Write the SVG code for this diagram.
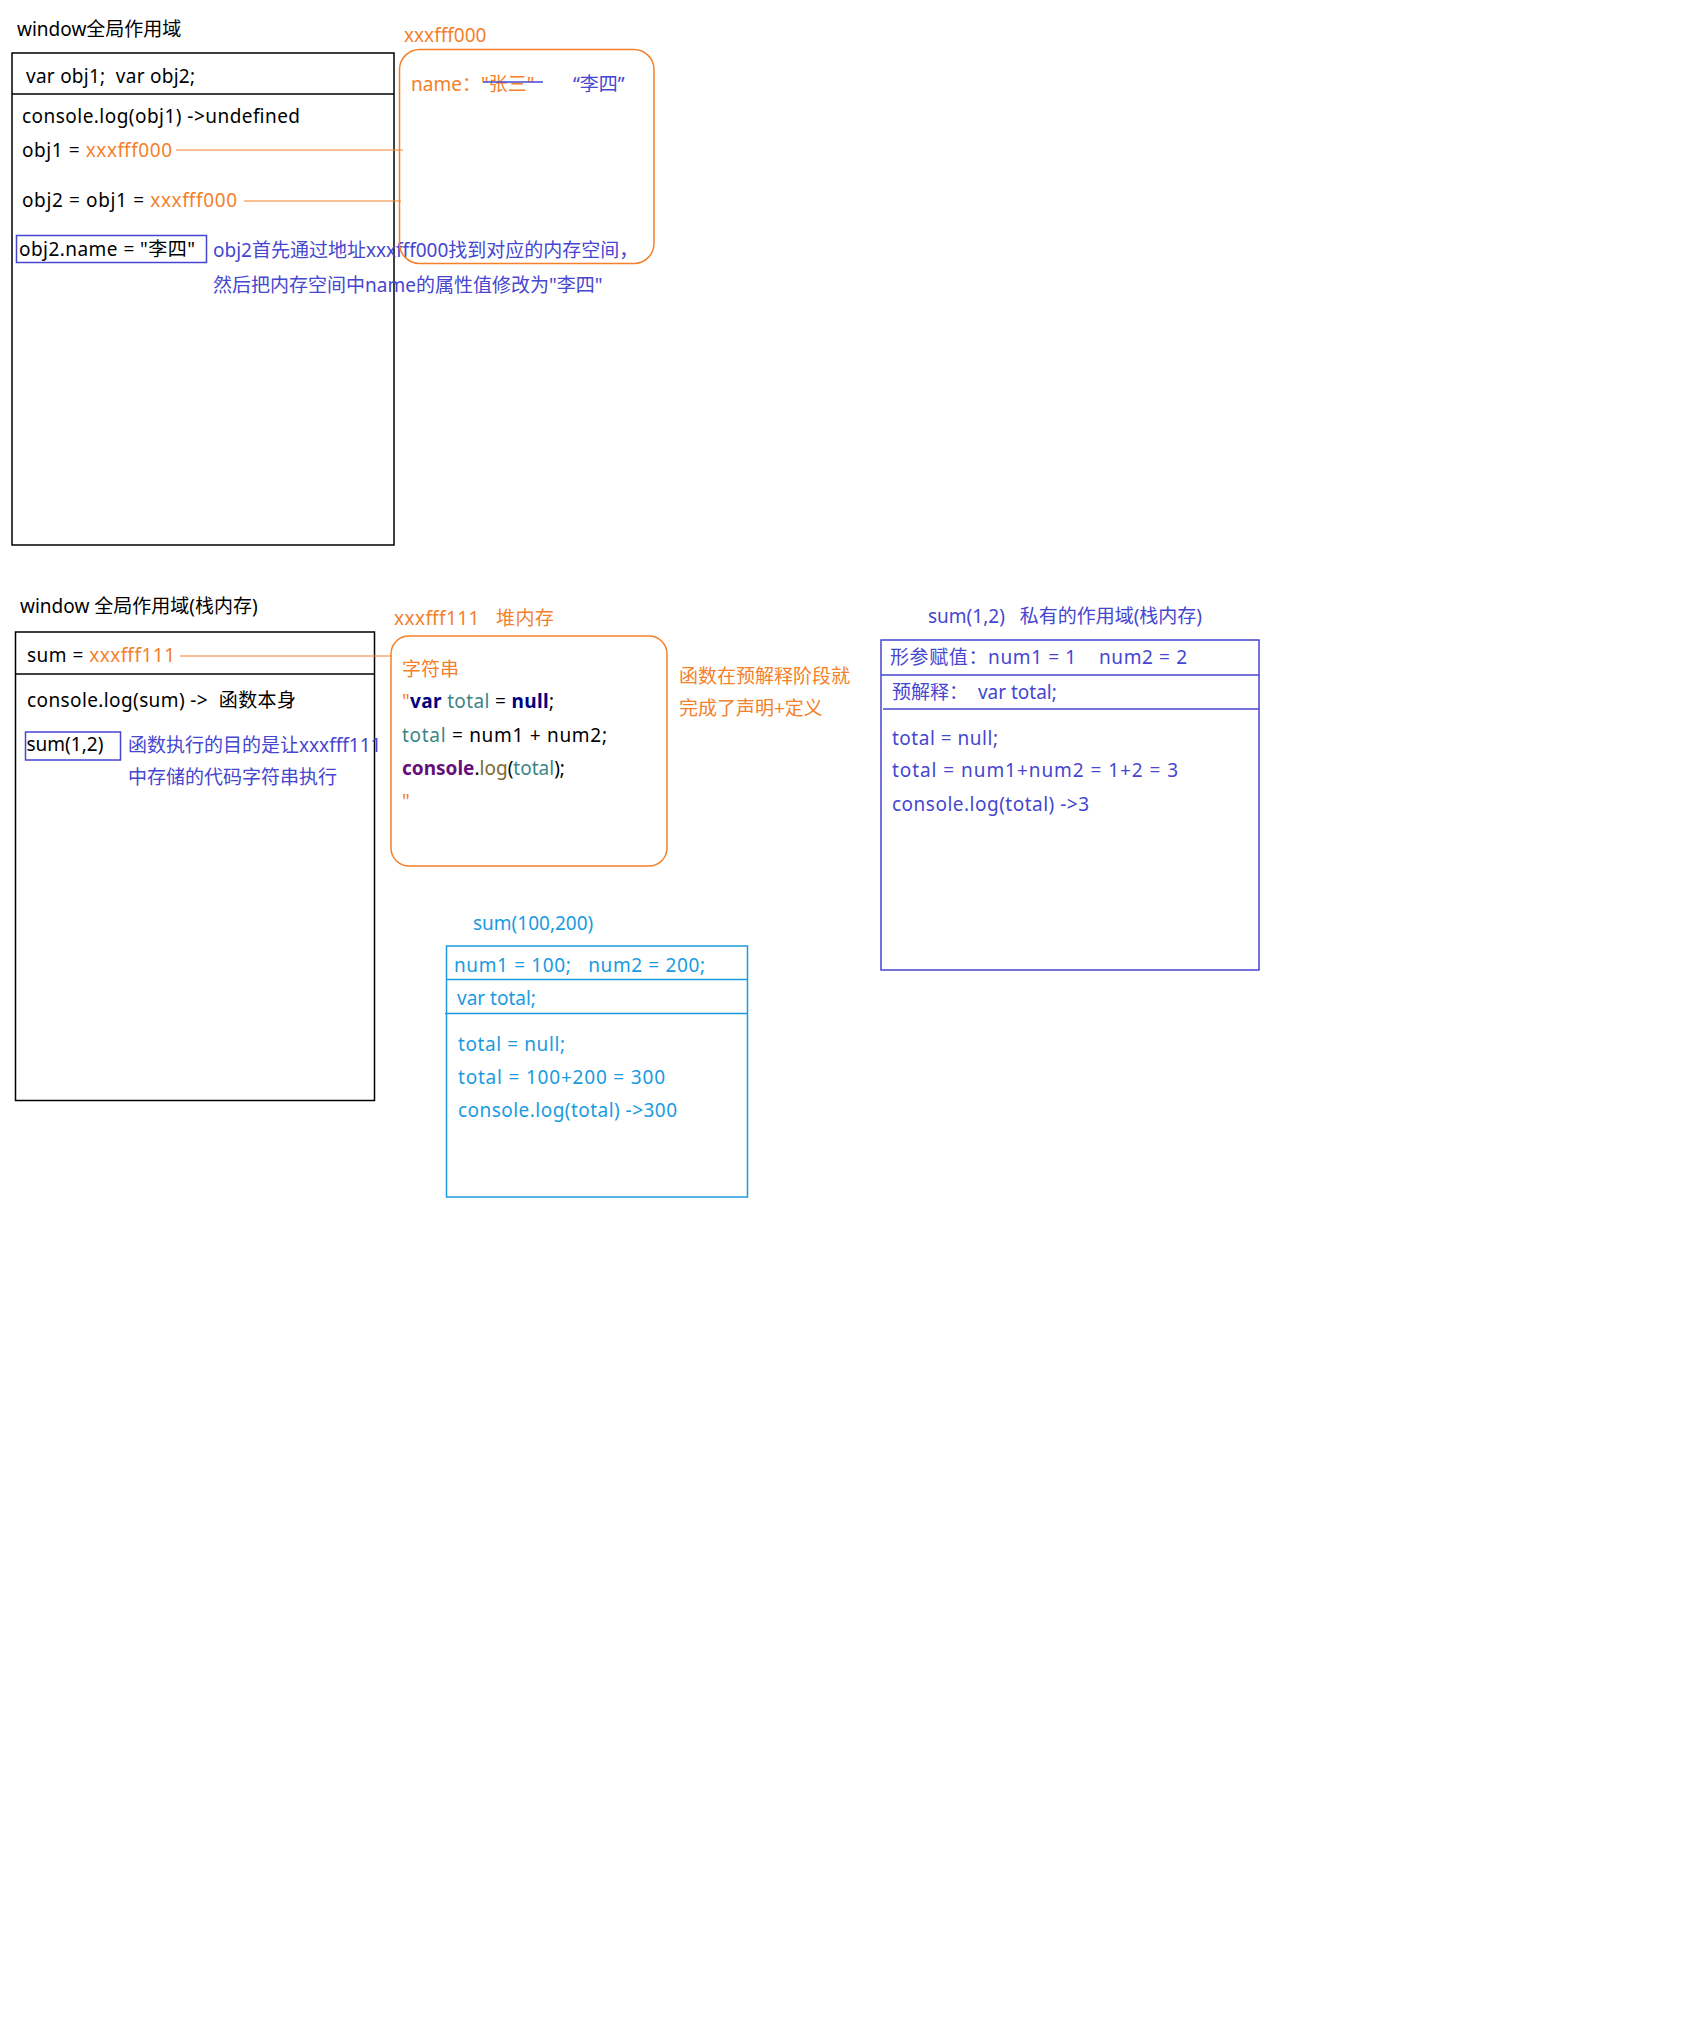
<svg xmlns="http://www.w3.org/2000/svg" width="1688" height="2028" viewBox="0 0 1688 2028">
  <style>
    text { font-family: "Noto Sans", "Noto Sans CJK SC", sans-serif; font-size: 19px; white-space: pre; fill: #000; }
    .or { fill: #f5802a; }
    .bl { fill: #4646d0; }
    .sky { fill: #1a9be0; }
    .kw { fill: #000080; font-weight: bold; }
    .id { fill: #3d8585; }
    .fn { fill: #660e7a; font-weight: bold; }
    .mt { fill: #7a6a30; }
    .box { fill: none; stroke: #000; stroke-width: 1.5; }
    .heap { fill: none; stroke: #f5802a; stroke-width: 1.5; }
    .bbox { fill: none; stroke: #4646d0; stroke-width: 1.5; }
    .sbox { fill: none; stroke: #1a9be0; stroke-width: 1.5; }
    .link { stroke: #f5802a; stroke-width: 1; fill: none; }
  </style>
  <rect width="1688" height="2028" fill="#fff"/>

  <!-- global scope: object example -->
  <g id="global-scope-1">
    <text x="17" y="36">window全局作用域</text>
    <rect class="box" x="12" y="53" width="382" height="492"/>
    <line x1="12" y1="94" x2="394" y2="94" stroke="#000" stroke-width="1.5"/>
    <text x="26" y="83" textLength="169" lengthAdjust="spacing">var obj1;  var obj2;</text>
    <text x="22" y="123" textLength="278" lengthAdjust="spacing">console.log(obj1) -&gt;undefined</text>
    <text x="22" y="157" textLength="150" lengthAdjust="spacing">obj1 = <tspan class="or">xxxfff000</tspan></text>
    <text x="22" y="207" textLength="215" lengthAdjust="spacing">obj2 = obj1 = <tspan class="or">xxxfff000</tspan></text>
  </g>

  <g id="assign-name">
    <rect class="bbox" x="16.5" y="235.5" width="190" height="27"/>
    <text x="19" y="256" textLength="176" lengthAdjust="spacing">obj2.name = "李四"</text>
  </g>

  <g id="assign-note">
    <text class="bl" x="213" y="257">obj2首先通过地址xxxfff000找到对应的内存空间，</text>
    <text class="bl" x="213" y="292">然后把内存空间中name的属性值修改为"李四"</text>
  </g>

  <!-- heap object xxxfff000 -->
  <g id="heap-obj">
    <text class="or" x="404" y="42">xxxfff000</text>
    <rect class="heap" x="399.5" y="49.5" width="254.5" height="214" rx="20" ry="20"/>
    <text class="or" x="411" y="91">name：<tspan>"张三"</tspan></text>
    <line x1="483" y1="82" x2="543" y2="82" stroke="#4646d0" stroke-width="1.5"/>
    <text class="bl" x="573" y="91">“李四”</text>
  </g>

  <!-- global scope: function example -->
  <g id="global-scope-2">
    <text x="20" y="613">window 全局作用域(栈内存)</text>
    <rect class="box" x="15.5" y="632" width="359" height="468.5"/>
    <line x1="15.5" y1="674" x2="374.5" y2="674" stroke="#000" stroke-width="1.5"/>
    <text x="27" y="662" textLength="148" lengthAdjust="spacing">sum = <tspan class="or">xxxfff111</tspan></text>
    <text x="27" y="707" textLength="269" lengthAdjust="spacing">console.log(sum) -&gt;  函数本身</text>
  </g>

  <g id="call-sum">
    <rect class="bbox" x="25.5" y="732" width="95" height="28"/>
    <text x="26.5" y="751">sum(1,2)</text>
  </g>

  <g id="call-note">
    <text class="bl" x="128" y="752">函数执行的目的是让xxxfff111</text>
    <text class="bl" x="128" y="784">中存储的代码字符串执行</text>
  </g>

  <!-- heap function xxxfff111 -->
  <g id="heap-fn">
    <text class="or" x="394" y="625" textLength="160" lengthAdjust="spacing">xxxfff111   堆内存</text>
    <rect class="heap" x="391" y="636" width="276" height="230" rx="18" ry="18"/>
    <text class="or" x="402" y="676">字符串</text>
    <text x="402" y="708" textLength="152" lengthAdjust="spacing"><tspan class="or">"</tspan><tspan class="kw">var</tspan> <tspan class="id">total</tspan> = <tspan class="kw">null</tspan>;</text>
    <text x="402" y="742" textLength="205" lengthAdjust="spacing"><tspan class="id">total</tspan> = num1 + num2;</text>
    <text x="402" y="775"><tspan class="fn">console</tspan>.<tspan class="mt">log</tspan>(<tspan class="id">total</tspan>);</text>
    <text class="or" x="402" y="808">"</text>
  </g>

  <g id="hoist-note">
    <text class="or" x="679" y="683">函数在预解释阶段就</text>
    <text class="or" x="679" y="715">完成了声明+定义</text>
  </g>

  <!-- private scope of sum(1,2) -->
  <g id="private-scope-1">
    <text class="bl" x="928" y="623">sum(1,2)   私有的作用域(栈内存)</text>
    <rect class="bbox" x="881" y="640" width="378" height="330"/>
    <line x1="881" y1="675" x2="1259" y2="675" stroke="#4646d0" stroke-width="1.5"/>
    <line x1="883" y1="709" x2="1259" y2="709" stroke="#4646d0" stroke-width="1.5"/>
    <text class="bl" x="890" y="664" textLength="297" lengthAdjust="spacing">形参赋值：num1 = 1    num2 = 2</text>
    <text class="bl" x="892" y="699">预解释：  var total;</text>
    <text class="bl" x="892" y="745" textLength="106" lengthAdjust="spacing">total = null;</text>
    <text class="bl" x="892" y="777" textLength="286" lengthAdjust="spacing">total = num1+num2 = 1+2 = 3</text>
    <text class="bl" x="892" y="811" textLength="197" lengthAdjust="spacing">console.log(total) -&gt;3</text>
  </g>

  <!-- private scope of sum(100,200) -->
  <g id="private-scope-2">
    <text class="sky" x="473" y="930">sum(100,200)</text>
    <rect class="sbox" x="446.5" y="946" width="301" height="251"/>
    <line x1="446.5" y1="979.5" x2="747.5" y2="979.5" stroke="#1a9be0" stroke-width="1.5"/>
    <line x1="445" y1="1013.5" x2="747.5" y2="1013.5" stroke="#1a9be0" stroke-width="1.5"/>
    <text class="sky" x="454" y="972" textLength="251" lengthAdjust="spacing">num1 = 100;   num2 = 200;</text>
    <text class="sky" x="457" y="1005">var total;</text>
    <text class="sky" x="458" y="1051" textLength="107" lengthAdjust="spacing">total = null;</text>
    <text class="sky" x="458" y="1084" textLength="207" lengthAdjust="spacing">total = 100+200 = 300</text>
    <text class="sky" x="458" y="1117" textLength="219" lengthAdjust="spacing">console.log(total) -&gt;300</text>
  </g>

  <!-- address references -->
  <g id="connectors">
    <line class="link" x1="176" y1="150" x2="403" y2="150"/>
    <line class="link" x1="244" y1="201" x2="401" y2="201"/>
    <line class="link" x1="180" y1="656" x2="392" y2="656"/>
  </g>
</svg>
